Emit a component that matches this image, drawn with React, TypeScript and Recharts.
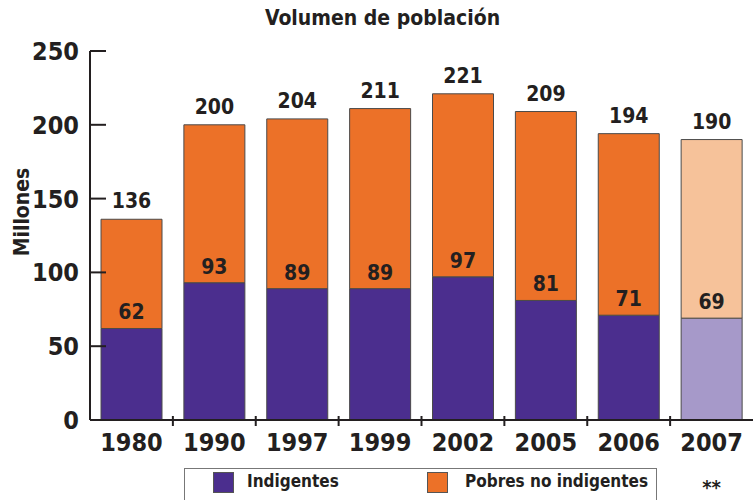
import { Bar, BarChart, Cell, LabelList, XAxis, YAxis } from "recharts";

const years = ["1980", "1990", "1997", "1999", "2002", "2005", "2006", "2007"];
const yearNotes = ["", "", "", "", "", "", "", "**"];
const indigentes = [62, 93, 89, 89, 97, 81, 71, 69];
const pobresNoIndigentes = [74, 107, 115, 122, 124, 128, 123, 121];
const totales = [136, 200, 204, 211, 221, 209, 194, 190];
const yTicks = [0, 50, 100, 150, 200, 250];

const FONT = "'DejaVu Sans', sans-serif";
const STRETCH = "condensed";
const INK = "#231F20";
const PURPLE = "#4B2E8E";
const ORANGE = "#EC7128";
const PURPLE_LIGHT = "#A699C9";
const ORANGE_LIGHT = "#F6C29A";

const W = 753;
const H = 500;
const PLOT_LEFT = 90;
const BAND = (W - PLOT_LEFT) / years.length;

const data = years.map((y, i) => ({
  year: y,
  note: yearNotes[i],
  ind: indigentes[i],
  pob: pobresNoIndigentes[i],
  total: totales[i],
}));

const textStyle = { fontStretch: STRETCH, fontFamily: FONT, fontWeight: "bold" as const };

function YTick({ x, y, payload }: any) {
  return (
    <g>
      <line x1={x + 11} x2={x + 27} y1={y} y2={y} stroke={INK} strokeWidth={2} />
      <text x={x} y={y} dy={9} textAnchor="end" fill={INK} fontSize={25} style={textStyle}>
        {payload.value}
      </text>
    </g>
  );
}

function XTick({ x, y, payload, index }: any) {
  const note = yearNotes[index];
  return (
    <g>
      {index > 0 && (
        <line
          x1={x - BAND / 2}
          x2={x - BAND / 2}
          y1={y - 12}
          y2={y - 2}
          stroke={INK}
          strokeWidth={2}
        />
      )}
      <text x={x} y={y} dy={23} textAnchor="middle" fill={INK} fontSize={25} style={textStyle}>
        {payload.value}
      </text>
      {note && (
        <text x={x} y={y} dy={66} textAnchor="middle" fill={INK} fontSize={20} style={textStyle}>
          {note}
        </text>
      )}
    </g>
  );
}

const labelStyle = { ...textStyle, fill: INK, fontSize: 21 };

export default function App() {
  return (
    <div style={{ position: "absolute", left: 0, top: 0, width: W, height: H, background: "#fff" }}>
      <div
        style={{
          position: "absolute",
          left: 0,
          width: W,
          top: 6,
          textAlign: "center",
          ...textStyle,
          fontSize: 21,
          color: INK,
          paddingLeft: 12,
          boxSizing: "border-box",
        }}
      >
        Volumen de población
      </div>
      <div
        style={{
          position: "absolute",
          left: 22,
          top: 212,
          transform: "translate(-50%, -50%) rotate(-90deg)",
          ...textStyle,
          fontSize: 21,
          color: INK,
          whiteSpace: "nowrap",
        }}
      >
        Millones
      </div>
      <BarChart
        width={W}
        height={H}
        data={data}
        margin={{ top: 51, right: 0, left: 0, bottom: 50 }}
        barCategoryGap={11}
      >
        <XAxis
          dataKey="year"
          height={30}
          axisLine={{ stroke: INK, strokeWidth: 2 }}
          tickLine={false}
          tick={<XTick />}
          interval={0}
        />
        <YAxis
          width={PLOT_LEFT}
          domain={[0, 250]}
          ticks={yTicks}
          axisLine={{ stroke: INK, strokeWidth: 2 }}
          tickLine={false}
          tickSize={0}
          tickMargin={11}
          tick={<YTick />}
        />
        <Bar dataKey="ind" stackId="a" stroke="#4a4a4a" strokeWidth={1} isAnimationActive={false}>
          {data.map((d, i) => (
            <Cell key={d.year} fill={i === data.length - 1 ? PURPLE_LIGHT : PURPLE} />
          ))}
          <LabelList dataKey="ind" position="top" offset={9} style={labelStyle} />
        </Bar>
        <Bar dataKey="pob" stackId="a" stroke="#4a4a4a" strokeWidth={1} isAnimationActive={false}>
          {data.map((d, i) => (
            <Cell key={d.year} fill={i === data.length - 1 ? ORANGE_LIGHT : ORANGE} />
          ))}
          <LabelList dataKey="total" position="top" offset={11} style={labelStyle} />
        </Bar>
      </BarChart>
      <div
        style={{
          position: "absolute",
          left: 184,
          top: 468,
          width: 473,
          height: 40,
          border: "1px solid #777",
          boxSizing: "border-box",
          ...textStyle,
          fontSize: 17,
          color: INK,
          whiteSpace: "nowrap",
        }}
      >
        <span style={{ position: "absolute", left: 28, top: 3, width: 21, height: 21, background: PURPLE, border: "1px solid #555", boxSizing: "border-box" }} />
        <span style={{ position: "absolute", left: 62, top: 2 }}>Indigentes</span>
        <span style={{ position: "absolute", left: 242, top: 3, width: 21, height: 21, background: ORANGE, border: "1px solid #555", boxSizing: "border-box" }} />
        <span style={{ position: "absolute", left: 280, top: 2 }}>Pobres no indigentes</span>
      </div>
    </div>
  );
}
